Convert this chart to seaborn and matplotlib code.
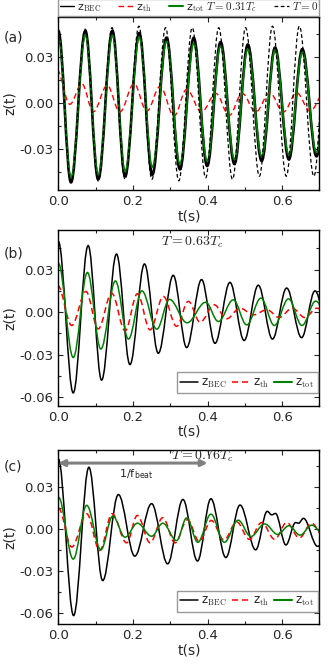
import matplotlib
matplotlib.use("Agg")
import matplotlib.pyplot as plt
import seaborn as sns
from matplotlib.path import Path
from matplotlib.patches import PathPatch
from matplotlib.lines import Line2D
from matplotlib.ticker import MultipleLocator, FormatStrFormatter

# turning points (time in s, z), per curve
# panel (a), T = 0.31 Tc
t_bec_a = [0.000, 0.034, 0.0725, 0.107, 0.145, 0.179, 0.217, 0.252, 0.290, 0.326, 0.363,
           0.399, 0.435, 0.472, 0.508, 0.545, 0.581, 0.618, 0.654, 0.692, 0.727]
z_bec_a = [0.047, -0.052, 0.047, -0.050, 0.047, -0.048, 0.0455, -0.047, 0.0425, -0.0435, 0.0424,
           -0.0413, 0.0396, -0.040, 0.038, -0.038, 0.036, -0.037, 0.035, -0.035, 0.034]
t_tot_a = t_bec_a
z_tot_a = [0.044, -0.049, 0.0445, -0.047, 0.044, -0.045, 0.043, -0.042, 0.040, -0.040, 0.0387,
           -0.038, 0.037, -0.037, 0.035, -0.035, 0.0344, -0.034, 0.033, -0.0326, 0.032]
t_th_a = [-0.004, 0.031, 0.063, 0.094, 0.131, 0.165, 0.203, 0.237, 0.273, 0.310, 0.344,
          0.384, 0.422, 0.458, 0.493, 0.529, 0.567, 0.603, 0.639, 0.675, 0.712]
z_th_a = [0.0215, -0.001, 0.0124, -0.0059, 0.0113, -0.0060, 0.0124, -0.0055, 0.0107, -0.0087, 0.0087,
          -0.0061, 0.0061, -0.0083, 0.0061, -0.0061, 0.0065, -0.0061, 0.0065, -0.0055, 0.0060]
t_zero_a = [0.000, 0.034, 0.072, 0.107, 0.144, 0.179, 0.216, 0.251, 0.2875, 0.323, 0.359,
            0.395, 0.430, 0.467, 0.502, 0.539, 0.574, 0.611, 0.646, 0.685, 0.720]
z_zero_a = [0.047, -0.052, 0.048, -0.051, 0.049, -0.050, 0.050, -0.050, 0.049, -0.051, 0.049,
            -0.049, 0.049, -0.050, 0.049, -0.048, 0.050, -0.048, 0.050, -0.048, 0.049]

# panel (b), T = 0.63 Tc
t_bec_b = [0.000, 0.040, 0.080, 0.116, 0.156, 0.192, 0.231, 0.268, 0.308, 0.344,
           0.384, 0.420, 0.460, 0.498, 0.536, 0.574, 0.612, 0.652, 0.688, 0.726]
z_bec_b = [0.050, -0.057, 0.047, -0.048, 0.041, -0.037, 0.034, -0.029, 0.026, -0.025,
           0.023, -0.022, 0.021, -0.020, 0.019, -0.019, 0.017, -0.018, 0.015, -0.015]
t_tot_b = [0.000, 0.040, 0.078, 0.114, 0.153, 0.188, 0.224, 0.264, 0.298, 0.345,
           0.395, 0.429, 0.469, 0.505, 0.543, 0.579, 0.617, 0.653, 0.690, 0.728]
z_tot_b = [0.0345, -0.032, 0.028, -0.026, 0.022, -0.019, 0.015, -0.012, 0.009, -0.0075,
           0.007, -0.0066, 0.0087, -0.009, 0.0099, -0.0094, 0.0094, -0.0094, 0.0078, -0.007]
t_th_b = [-0.002, 0.036, 0.074, 0.107, 0.143, 0.179, 0.212, 0.246, 0.2815, 0.317, 0.3485,
          0.380, 0.418, 0.451, 0.487, 0.523, 0.559, 0.592, 0.627, 0.661, 0.693, 0.727]
z_th_b = [0.019, -0.0094, 0.0146, -0.0118, 0.0134, -0.0132, 0.013, -0.0125, 0.0111, -0.010, 0.0076,
          -0.0071, 0.0052, -0.0047, 0.0028, -0.0019, 0.0017, -0.0038, 0.0028, -0.0038, 0.0028, -0.003]

# panel (c), T = 0.76 Tc
t_bec_c = [0.000, 0.041, 0.082, 0.119, 0.161, 0.205, 0.250, 0.293, 0.334, 0.373, 0.409, 0.449,
           0.487, 0.529, 0.560, 0.572, 0.582, 0.610, 0.636, 0.644, 0.657, 0.695, 0.730]
z_bec_c = [0.050, -0.062, 0.044, -0.037, 0.0245, -0.0195, 0.018, -0.025, 0.021, -0.023, 0.0215, -0.0205,
           0.017, -0.015, 0.0125, 0.0100, 0.0110, -0.0115, 0.0045, 0.0040, 0.0075, -0.0125, -0.004]
t_tot_c = [0.000, 0.040, 0.076, 0.114, 0.146, 0.179, 0.212, 0.250, 0.280, 0.317, 0.344,
           0.374, 0.409, 0.445, 0.482, 0.516, 0.553, 0.588, 0.618, 0.648, 0.679, 0.715]
z_tot_c = [0.0228, -0.0216, 0.0168, -0.0150, 0.0091, -0.0060, 0.0040, -0.0053, 0.0040, -0.0084, 0.0078,
           -0.0096, 0.0105, -0.0096, 0.0062, -0.0055, 0.0035, -0.0040, 0.0022, -0.0045, 0.0026, -0.0050]
t_th_c = [0.000, 0.036, 0.076, 0.111, 0.144, 0.183, 0.212, 0.246, 0.280, 0.313, 0.346,
          0.378, 0.410, 0.444, 0.478, 0.512, 0.545, 0.580, 0.612, 0.646, 0.679, 0.712]
z_th_c = [0.0150, -0.0130, 0.0108, -0.0155, 0.0108, -0.0100, 0.0096, -0.0100, 0.0080, -0.0100, 0.0065,
          -0.0090, 0.0060, -0.0080, 0.0050, -0.0075, 0.0045, -0.0075, 0.0045, -0.0065, 0.0040, -0.0060]

panel_names = ["(a)", "(b)", "(c)"]
temps = [r"$T = 0.31T_c$", r"$T = 0.63T_c$", r"$T = 0.76T_c$"]

sns.set_theme(style="ticks")
plt.rcParams["font.family"] = ["DejaVu Sans"]
plt.rcParams["mathtext.fontset"] = "cm"
plt.rcParams["axes.unicode_minus"] = False
plt.rcParams["font.size"] = 8.5


def wave(ax, t, z, **kw):
    # smooth curve through the turning points (flat tangents at each extremum)
    verts = [(t[0], z[0])]
    codes = [Path.MOVETO]
    for i in range(len(t) - 1):
        d = t[i + 1] - t[i]
        verts += [(t[i] + 0.363 * d, z[i]), (t[i + 1] - 0.363 * d, z[i + 1]), (t[i + 1], z[i + 1])]
        codes += [Path.CURVE4] * 3
    ax.add_patch(PathPatch(Path(verts, codes), fill=False, capstyle="butt", **kw))


fig = plt.figure(figsize=(3.32, 6.66), dpi=100)
boxes = [[0.1756, 0.7147, 0.7867, 0.2598],
         [0.1756, 0.3909, 0.7867, 0.2638],
         [0.1756, 0.0631, 0.7867, 0.2605]]
ylims = [(-0.057, 0.056), (-0.066, 0.058), (-0.068, 0.056)]
axes = [fig.add_axes(b) for b in boxes]

red_dash = (0, (4, 2.5))
blk_dash = (0, (3, 2))
# (a)
ax = axes[0]
wave(ax, t_bec_a, z_bec_a, ec="black", lw=1.9)
wave(ax, t_th_a, z_th_a, ec="red", lw=1.0, ls=red_dash)
wave(ax, t_tot_a, z_tot_a, ec="green", lw=1.2)
wave(ax, t_zero_a, z_zero_a, ec="black", lw=0.9, ls=blk_dash)
hand = [Line2D([], [], color="black", lw=1.0),
        Line2D([], [], color="red", lw=1.0, ls=red_dash),
        Line2D([], [], color="green", lw=1.5),
        Line2D([], [], color="black", lw=0.9, ls=blk_dash)]
labs = [r"z$_{\rm BEC}$", r"z$_{\rm th}$", r"z$_{\rm tot}$ " + temps[0], r"$T = 0$"]
ax.legend(hand, labs, loc="lower left", bbox_to_anchor=(0, 1.008, 1, 0.1), mode="expand",
          ncol=4, borderaxespad=0, handlelength=1.3, handletextpad=0.3, columnspacing=0.4,
          fancybox=False, edgecolor="0.6", framealpha=1, fontsize=8, borderpad=0.12)

# (b) and (c)
for ax, tb, zb, tt, zt, tg, zg in [(axes[1], t_bec_b, z_bec_b, t_th_b, z_th_b, t_tot_b, z_tot_b),
                                    (axes[2], t_bec_c, z_bec_c, t_th_c, z_th_c, t_tot_c, z_tot_c)]:
    wave(ax, tb, zb, ec="black", lw=1.1)
    wave(ax, tt, zt, ec="red", lw=1.1, ls=red_dash)
    wave(ax, tg, zg, ec="green", lw=1.1)
    hand = [Line2D([], [], color="black", lw=1.1),
            Line2D([], [], color="red", lw=1.1, ls=red_dash),
            Line2D([], [], color="green", lw=1.5)]
    ax.legend(hand, [r"z$_{\rm BEC}$", r"z$_{\rm th}$", r"z$_{\rm tot}$"], loc="lower right",
              bbox_to_anchor=(1.0, 0.06), borderaxespad=0.15, ncol=3, handlelength=1.5,
              handletextpad=0.3, columnspacing=0.4, fancybox=False, edgecolor="0.6",
              framealpha=1, fontsize=8.5, borderpad=0.3)

axes[1].text(0.36, 0.049, temps[1], ha="center", va="center", fontsize=10)
axes[2].text(0.385, 0.0515, temps[2], ha="center", va="center", fontsize=10)
axes[2].annotate("", xy=(0.0, 0.047), xytext=(0.40, 0.047),
                 arrowprops=dict(arrowstyle="<|-|>", color="0.5", lw=2.2,
                                 shrinkA=0, shrinkB=0, mutation_scale=9))
axes[2].text(0.208, 0.0395, r"1/f$_\mathregular{beat}$", ha="center", va="center", fontsize=8)

for ax, yl, name, yb in zip(axes, ylims, panel_names, [0.944, 0.619, 0.299]):
    ax.set_xlim(0, 0.7)
    ax.set_ylim(*yl)
    ax.xaxis.set_major_locator(MultipleLocator(0.2))
    ax.xaxis.set_minor_locator(MultipleLocator(0.1))
    ax.yaxis.set_major_locator(MultipleLocator(0.03))
    ax.yaxis.set_minor_locator(MultipleLocator(0.015))
    ax.xaxis.set_major_formatter(FormatStrFormatter("%.1f"))
    ax.yaxis.set_major_formatter(FormatStrFormatter("%.2f"))
    ax.tick_params(which="both", direction="in", top=True, right=True, labelsize=9.5)
    ax.tick_params(which="major", length=3.5, width=0.8)
    ax.tick_params(which="minor", length=2.5, width=0.8)
    for s in ax.spines.values():
        s.set_linewidth(1.0)
        s.set_color("black")
    ax.set_xlabel("t(s)", fontsize=10, labelpad=1)
    ax.set_ylabel("z(t)", fontsize=10, labelpad=2)
    fig.text(0.012, yb, name, fontsize=10, ha="left", va="center")

fig.savefig("out.png", dpi=100)
